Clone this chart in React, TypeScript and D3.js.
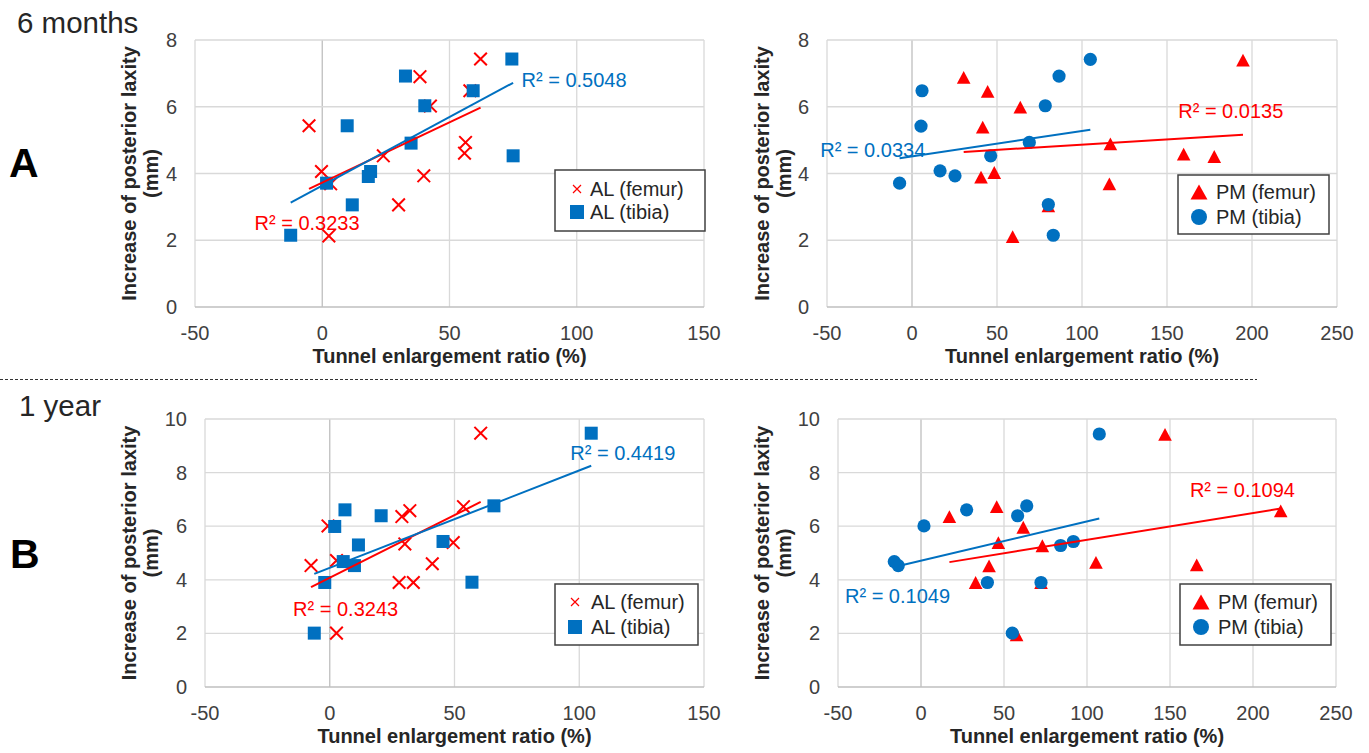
import React from "react";
import * as d3 from "d3";

type Pt = [number, number];

// tunnel enlargement ratio (%), increase of posterior laxity (mm)
// 6 months
const alFemur6m: Pt[] = [[62.2, 7.43], [38.4, 6.9], [42.5, 6.02], [58, 6.48], [-5.2, 5.43], [56.3, 4.93], [55.9, 4.61], [24, 4.53], [-0.3, 4.06], [3.3, 3.69], [39.9, 3.93], [30, 3.06], [2.6, 2.13]];
const alTibia6m: Pt[] = [[74.5, 7.43], [32.7, 6.92], [59.3, 6.48], [40.3, 6.03], [9.8, 5.43], [34.9, 4.91], [75, 4.53], [19, 4.06], [18.1, 3.91], [1.7, 3.71], [11.8, 3.06], [-12.4, 2.15]];
const pmFemur6m: Pt[] = [[194.7, 7.4], [30.4, 6.88], [44.5, 6.46], [63.7, 5.99], [41.6, 5.39], [116.7, 4.89], [159.8, 4.58], [177.8, 4.51], [48.4, 4.03], [40.6, 3.89], [116.1, 3.69], [80.2, 3.03], [59.2, 2.11]];
const pmTibia6m: Pt[] = [[104.9, 7.42], [86.5, 6.92], [5.9, 6.48], [78.4, 6.03], [5.3, 5.42], [69, 4.93], [46.3, 4.53], [16.5, 4.08], [25.3, 3.93], [-7.3, 3.71], [80.2, 3.07], [83.1, 2.15]];

// 1 year
const alFemur1y: Pt[] = [[60.5, 9.47], [53.6, 6.73], [32.1, 6.58], [28.9, 6.36], [-0.7, 6.01], [30.1, 5.34], [49.5, 5.39], [41.1, 4.6], [-7.5, 4.53], [2.7, 4.72], [27.8, 3.9], [33.5, 3.9], [2.7, 2.01]];
const alTibia1y: Pt[] = [[104.8, 9.47], [65.8, 6.76], [6.1, 6.61], [20.6, 6.39], [2, 5.99], [11.5, 5.3], [45.4, 5.43], [5.4, 4.68], [9.9, 4.53], [-2, 3.9], [57, 3.91], [-6.2, 2.01]];
const pmFemur1y: Pt[] = [[147, 9.43], [216.7, 6.57], [17.1, 6.36], [45.6, 6.73], [61.6, 5.96], [46.6, 5.39], [73.1, 5.27], [41, 4.52], [105.4, 4.65], [166.1, 4.56], [32.9, 3.9], [72.3, 3.9], [57.6, 1.95]];
const pmTibia1y: Pt[] = [[107.4, 9.44], [27.5, 6.61], [63.7, 6.76], [58.2, 6.39], [1.8, 6.01], [91.8, 5.43], [84.1, 5.28], [-16.1, 4.68], [-13.7, 4.53], [40, 3.9], [72.3, 3.9], [55, 2.01]];

const xTicksAL = [-50, 0, 50, 100, 150];
const xTicksPM = [-50, 0, 50, 100, 150, 200, 250];
const yTicks6m = [0, 2, 4, 6, 8];
const yTicks1y = [0, 2, 4, 6, 8, 10];

// [femur, tibia]
const r2AL6m = ["R² = 0.3233", "R² = 0.5048"];
const r2PM6m = ["R² = 0.0135", "R² = 0.0334"];
const r2AL1y = ["R² = 0.3243", "R² = 0.4419"];
const r2PM1y = ["R² = 0.1094", "R² = 0.1049"];

const FONT = "'Liberation Sans', Arial, sans-serif";
const RED = "#FF0000";
const BLUE = "#0070C0";
const GRID = "#D9D9D9";
const TXT = "#262626";

function trend(pts: Pt[]): Pt[] {
  const mx = d3.mean(pts, (p) => p[0]) as number;
  const my = d3.mean(pts, (p) => p[1]) as number;
  const b = d3.sum(pts, (p) => (p[0] - mx) * (p[1] - my)) / d3.sum(pts, (p) => (p[0] - mx) ** 2);
  const [x0, x1] = d3.extent(pts, (p) => p[0]) as [number, number];
  return [[x0, my + b * (x0 - mx)], [x1, my + b * (x1 - mx)]];
}

function Marker({ shape, cx, cy, legend }: { shape: string; cx: number; cy: number; legend?: boolean }) {
  if (shape === "x") {
    const s = legend ? 4 : 6.3;
    return (
      <path d={`M${cx - s},${cy - s}L${cx + s},${cy + s}M${cx - s},${cy + s}L${cx + s},${cy - s}`}
        stroke={RED} strokeWidth={legend ? 1.2 : 2} fill="none" />
    );
  }
  if (shape === "square") {
    const s = legend ? 14 : 13;
    return <rect x={cx - s / 2} y={cy - s / 2} width={s} height={s} fill={BLUE} />;
  }
  if (shape === "circle") {
    return <circle cx={cx} cy={cy} r={legend ? 8 : 6.6} fill={BLUE} />;
  }
  const w = legend ? 8.5 : 6.8, h = legend ? 7.5 : 6.4;
  return <path d={`M${cx},${cy - h}L${cx + w},${cy + h}L${cx - w},${cy + h}Z`} fill={RED} />;
}

interface PanelProps {
  box: { left: number; right: number; top: number; bottom: number };
  xTicks: number[];
  yTicks: number[];
  femur: Pt[];
  tibia: Pt[];
  group: string;
  r2: string[];
  r2At: Pt[];
  legend: { x: number; y: number; w: number; h: number; rows: number[]; mx: number; tx: number };
  titleX: number[];
}

function Panel(p: PanelProps) {
  const { box } = p;
  const x = d3.scaleLinear().domain(d3.extent(p.xTicks) as [number, number]).range([box.left, box.right]);
  const y = d3.scaleLinear().domain(d3.extent(p.yTicks) as [number, number]).range([box.bottom, box.top]);
  const line = d3.line<Pt>().x((d) => x(d[0])).y((d) => y(d[1]));
  const femurShape = p.group === "AL" ? "x" : "triangle";
  const tibiaShape = p.group === "AL" ? "square" : "circle";
  const cy = (box.top + box.bottom) / 2;
  return (
    <g fontFamily={FONT}>
      {p.xTicks.map((t) => (
        <line key={"gx" + t} x1={x(t)} x2={x(t)} y1={box.top} y2={box.bottom}
          stroke={t === 0 ? "#BFBFBF" : GRID} strokeWidth={1.3} />
      ))}
      {p.yTicks.map((t) => (
        <line key={"gy" + t} x1={box.left} x2={box.right} y1={y(t)} y2={y(t)}
          stroke={t === 0 ? "#BFBFBF" : GRID} strokeWidth={1.3} />
      ))}
      {p.xTicks.map((t) => (
        <text key={"tx" + t} x={x(t)} y={box.bottom + 33} textAnchor="middle" fontSize={20} fill="#404040">{t}</text>
      ))}
      {p.yTicks.map((t) => (
        <text key={"ty" + t} x={box.left - 18} y={y(t) + 7} textAnchor="end" fontSize={20} fill="#404040">{t}</text>
      ))}
      <text x={(box.left + box.right) / 2} y={box.bottom + 56} textAnchor="middle" fontSize={20} fontWeight="bold" fill={TXT}>
        Tunnel enlargement ratio (%)
      </text>
      <text transform={`translate(${p.titleX[0]},${cy}) rotate(-90)`} textAnchor="middle" dominantBaseline="central"
        fontSize={20} fontWeight="bold" fill={TXT}>Increase of posterior laxity</text>
      <text transform={`translate(${p.titleX[1]},${cy}) rotate(-90)`} textAnchor="middle" dominantBaseline="central"
        fontSize={20} fontWeight="bold" fill={TXT}>(mm)</text>

      {p.femur.map((d, i) => <Marker key={"f" + i} shape={femurShape} cx={x(d[0])} cy={y(d[1])} />)}
      {p.tibia.map((d, i) => <Marker key={"t" + i} shape={tibiaShape} cx={x(d[0])} cy={y(d[1])} />)}
      <path d={line(trend(p.femur)) || ""} stroke={RED} strokeWidth={2} fill="none" />
      <path d={line(trend(p.tibia)) || ""} stroke={BLUE} strokeWidth={2} fill="none" />

      <text x={x(p.r2At[0][0])} y={y(p.r2At[0][1]) + 7} fontSize={20} fill={RED}>{p.r2[0]}</text>
      <text x={x(p.r2At[1][0])} y={y(p.r2At[1][1]) + 7} fontSize={20} fill={BLUE}>{p.r2[1]}</text>

      <rect x={p.legend.x} y={p.legend.y} width={p.legend.w} height={p.legend.h} fill="#fff" stroke="#404040" strokeWidth={1.5} />
      <Marker shape={femurShape} cx={p.legend.mx} cy={p.legend.rows[0]} legend />
      <Marker shape={tibiaShape} cx={p.legend.mx} cy={p.legend.rows[1]} legend />
      <text x={p.legend.tx} y={p.legend.rows[0] + 7} fontSize={20} fill={TXT}>{p.group} (femur)</text>
      <text x={p.legend.tx} y={p.legend.rows[1] + 7} fontSize={20} fill={TXT}>{p.group} (tibia)</text>
    </g>
  );
}

export default function App() {
  return (
    <svg width={1369} height={753} style={{ position: "absolute", left: 0, top: 0, background: "#fff" }}>
      <text x={17} y={33} fontFamily={FONT} fontSize={29.5} fill={TXT}>6 months</text>
      <text x={9} y={177} fontFamily={FONT} fontSize={41} fontWeight="bold" fill="#000">A</text>
      <text x={19} y={416} fontFamily={FONT} fontSize={29.5} fill={TXT}>1 year</text>
      <text x={10} y={568} fontFamily={FONT} fontSize={41} fontWeight="bold" fill="#000">B</text>
      <line x1={0} x2={1257} y1={379.5} y2={379.5} stroke="#333" strokeDasharray="3,2" strokeWidth={1} />

      <Panel box={{ left: 195, right: 704, top: 40, bottom: 307 }} xTicks={xTicksAL} yTicks={yTicks6m}
        femur={alFemur6m} tibia={alTibia6m} group="AL" r2={r2AL6m} r2At={[[-26.6, 2.53], [78.3, 6.8]]}
        legend={{ x: 555, y: 170, w: 150, h: 61, rows: [189, 212], mx: 577, tx: 590 }} titleX={[129, 151]} />
      <Panel box={{ left: 827, right: 1337, top: 40, bottom: 307 }} xTicks={xTicksPM} yTicks={yTicks6m}
        femur={pmFemur6m} tibia={pmTibia6m} group="PM" r2={r2PM6m} r2At={[[156.6, 5.88], [-54, 4.7]]}
        legend={{ x: 1178, y: 175, w: 151, h: 59, rows: [192, 217], mx: 1199, tx: 1216 }} titleX={[762, 784]} />
      <Panel box={{ left: 205, right: 704, top: 419, bottom: 687 }} xTicks={xTicksAL} yTicks={yTicks1y}
        femur={alFemur1y} tibia={alTibia1y} group="AL" r2={r2AL1y} r2At={[[-14.7, 2.92], [96.4, 8.73]]}
        legend={{ x: 555, y: 584, w: 143, h: 61, rows: [602, 627], mx: 575, tx: 591 }} titleX={[129, 151]} />
      <Panel box={{ left: 838, right: 1336, top: 419, bottom: 687 }} xTicks={xTicksPM} yTicks={yTicks1y}
        femur={pmFemur1y} tibia={pmTibia1y} group="PM" r2={r2PM1y} r2At={[[162, 7.35], [-45.8, 3.4]]}
        legend={{ x: 1180, y: 584, w: 151, h: 61, rows: [602, 627], mx: 1201, tx: 1218 }} titleX={[762, 784]} />
    </svg>
  );
}
